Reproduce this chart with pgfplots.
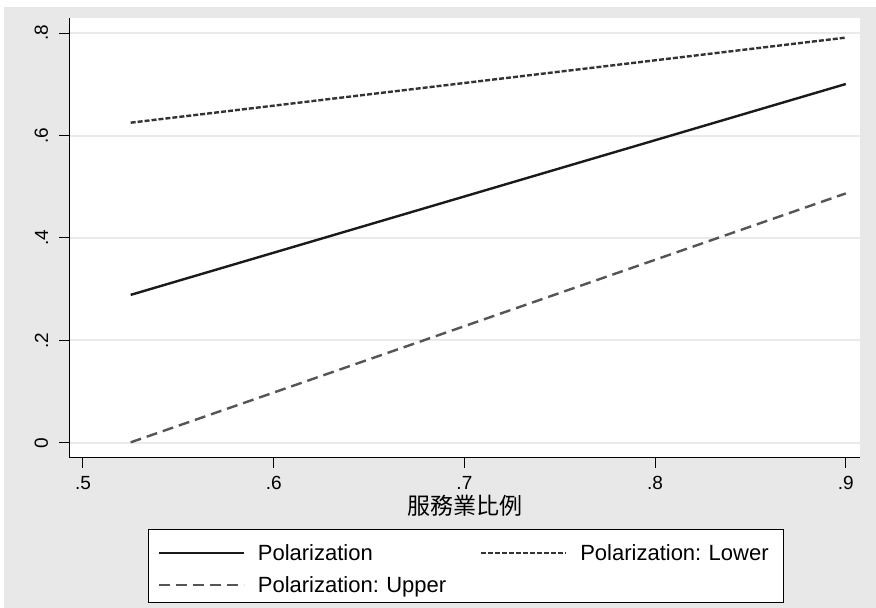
\documentclass[border=0pt]{standalone}
\usepackage{pgfplots}
\pgfplotsset{compat=1.18}
\usepackage{fontspec}
\setmainfont{Liberation Sans}
\newfontfamily\cjk{Noto Sans CJK TC}
\definecolor{bggray}{HTML}{E8E8E8}
\definecolor{gridgray}{HTML}{EAEAEA}
\definecolor{lowercol}{HTML}{333333}
\definecolor{uppercol}{HTML}{555555}
\definecolor{maincol}{HTML}{1A1A1A}
\begin{document}
\frenchspacing
\begin{tikzpicture}
\fill[white] (0,0) rectangle (438pt,304pt);
\fill[bggray] (2pt,0) rectangle (438pt,300.5pt);
\begin{axis}[
  at={(34.5pt,75pt)}, anchor=south west,
  scale only axis, width=395.5pt, height=220pt,
  xmin=0.49266, xmax=0.90745, ymin=-0.02927, ymax=0.82927,
  axis background/.style={fill=white},
  axis x line*=bottom, axis y line*=left,
  axis line style={-, black, line width=0.5pt},
  xtick={0.5,0.6,0.7,0.8,0.9}, xticklabels={.5,.6,.7,.8,.9},
  ytick={0,0.2,0.4,0.6,0.8}, yticklabels={0,.2,.4,.6,.8},
  tick align=outside, major tick length=5pt,
  tick style={black, line width=0.5pt},
  ymajorgrids, major grid style={gridgray, line width=1pt},
  tick label style={font=\fontsize{9.5}{11}\selectfont},
  xticklabel style={anchor=north, inner sep=0pt},
  yticklabel style={rotate=90, anchor=south, inner sep=0pt},
  xticklabel shift=4.1pt, yticklabel shift=5.3pt,
  xlabel={\cjk 服務業比例},
  xlabel style={at={(axis description cs:0.5,0)}, anchor=center, yshift=-24pt, font=\fontsize{11.5}{13}\selectfont},
  legend columns=2,
  legend style={at={(axis description cs:0.09987,-0.16136)}, anchor=north west,
    draw=black, line width=0.5pt, fill=white, inner xsep=4.5pt, inner ysep=2pt,
    font=\fontsize{11}{13}\selectfont, row sep=0pt,
    nodes={inner sep=0pt, text height=13.5pt, text depth=2.75pt, text width=97pt, align=left},
    /tikz/every odd column/.style={column sep=6.5pt},
    /tikz/every even column/.style={column sep=14pt}},
  legend image code/.code={\draw[#1] (0pt,-1.5pt) -- (42.5pt,-1.5pt);},
]
\addplot[maincol, line width=1.2pt] coordinates {(0.525,0.289) (0.9,0.7005)};
\addlegendentry{Polarization}
\addplot[lowercol, line width=1.2pt, dash pattern=on 2.5pt off 1pt] coordinates {(0.525,0.625) (0.9,0.791)};
\addlegendentry{Polarization: Lower}
\addplot[uppercol, line width=1.2pt, dash pattern=on 5.5pt off 3pt] coordinates {(0.525,0.0013) (0.9,0.487)};
\addlegendentry{Polarization: Upper}
\end{axis}
\pgfresetboundingbox
\useasboundingbox (0,0) rectangle (438pt,304pt);
\end{tikzpicture}
\end{document}
